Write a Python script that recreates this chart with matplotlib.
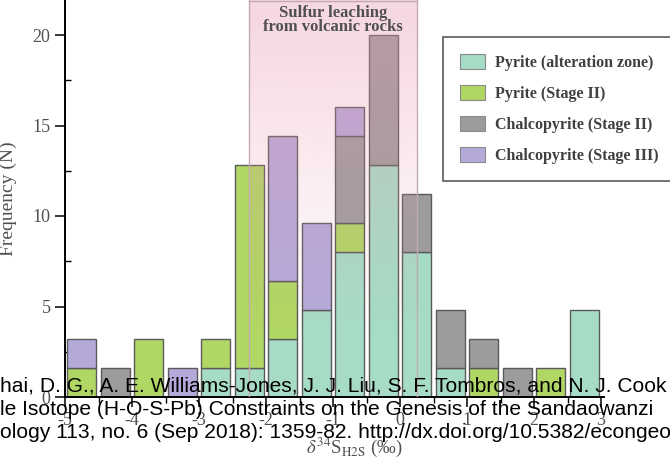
import numpy as np
import matplotlib
matplotlib.use("Agg")
import matplotlib.pyplot as plt
import matplotlib.patches as patches
from matplotlib.ticker import MultipleLocator

# bin centres of the 0.5 permil histogram
bin_centers = [-4.75, -4.25, -3.75, -3.25, -2.75, -2.25, -1.75, -1.25,
               -0.75, -0.25, 0.25, 0.75, 1.25, 1.75, 2.25, 2.75]

pyrite_alt = [0, 0, 0, 0, 1.6, 1.6, 3.2, 4.8, 8.0, 12.8, 8.0, 1.6, 0, 0, 0, 4.8]
pyrite_s2 = [1.6, 0, 3.2, 0, 1.6, 11.2, 3.2, 0, 1.6, 0, 0, 0, 1.6, 0, 1.6, 0]
ccp_s2 = [0, 1.6, 0, 0, 0, 0, 0, 0, 4.8, 7.2, 3.2, 3.2, 1.6, 1.6, 0, 0]
ccp_s3 = [1.6, 0, 0, 1.6, 0, 0, 8.0, 4.8, 1.6, 0, 0, 0, 0, 0, 0, 0]

series_labels = ['Pyrite (alteration zone)', 'Pyrite (Stage II)',
                 'Chalcopyrite (Stage II)', 'Chalcopyrite (Stage III)']
series_colors = ['#a6dcc6', '#b0d663', '#9c9c9c', '#b5a9da']

x_ticks = [-5, -4, -3, -2, -1, 0, 1, 2, 3]
x_tick_labels = ['-5', '-4', '-3', '-2', '-1', '0', '1', '2', '3']
y_ticks = [0, 5, 10, 15, 20]

leach_zone = (-2.25, 0.25)

citation = [
    'hai, D. G., A. E. Williams-Jones, J. J. Liu, S. F. Tombros, and N. J. Cook',
    'le Isotope (H-O-S-Pb) Constraints on the Genesis of the Sandaowanzi',
    'ology 113, no. 6 (Sep 2018): 1359-82. http://dx.doi.org/10.5382/econgeo',
]

plt.rcParams['font.family'] = ['Liberation Serif', 'DejaVu Serif']
plt.rcParams['mathtext.fontset'] = 'stix'

W, H = 670, 462
fig = plt.figure(figsize=(W / 100, H / 100), dpi=100)
ax = fig.add_axes([65 / W, 65 / H, 8.05 * 67 / W, 397 / H])

ymax = 397 / 18.1
ax.set_xlim(-5, 3.05)
ax.set_ylim(0, ymax)

# stacked bars
series = [pyrite_alt, pyrite_s2, ccp_s2, ccp_s3]
bottom = np.zeros(len(bin_centers))
handles = []
for vals, col, lab in zip(series, series_colors, series_labels):
    vals = np.array(vals, dtype=float)
    mask = vals > 0
    ax.bar(np.array(bin_centers)[mask], vals[mask], width=0.43,
           bottom=bottom[mask], color=col, edgecolor='#5a5a5a',
           linewidth=1.0, zorder=2)
    handles.append(patches.Patch(facecolor=col, edgecolor='#8a8a8a',
                                 linewidth=0.8, label=lab))
    bottom += vals

# pink shaded zone, fading to the bottom
n = 200
alpha = np.clip(np.linspace(0.0, 1.0, n) * 1.25 - 0.2, 0, 1) * 0.38
grad = np.zeros((n, 2, 4))
grad[:, :, 0] = 0.91
grad[:, :, 1] = 0.60
grad[:, :, 2] = 0.68
grad[:, :, 3] = alpha[:, None]
ax.imshow(grad, extent=[leach_zone[0], leach_zone[1], 0, ymax],
          origin='lower', aspect='auto', zorder=3, interpolation='bilinear')
for xe in leach_zone:
    ax.plot([xe, xe], [0, ymax], color='#c2aab2', lw=1.0, zorder=3)
ax.plot(leach_zone, [ymax - 0.05, ymax - 0.05], color='#c2aab2', lw=1.0, zorder=3)
ax.text(sum(leach_zone) / 2, ymax - 0.25, 'Sulfur leaching\nfrom volcanic rocks',
        ha='center', va='top', fontsize=12, fontweight='bold', color='#505050',
        linespacing=0.9, zorder=4)

# axes styling
for s in ['top', 'right']:
    ax.spines[s].set_visible(False)
for s in ['left', 'bottom']:
    ax.spines[s].set_linewidth(1.4)
ax.set_xticks(x_ticks)
ax.set_xticklabels(x_tick_labels)
ax.set_yticks(y_ticks)
ax.xaxis.set_minor_locator(MultipleLocator(0.5))
ax.yaxis.set_minor_locator(MultipleLocator(2.5))
ax.tick_params(which='major', direction='out', length=7, width=1.1,
               labelsize=13, labelcolor='#505050')
ax.tick_params(axis='y', which='minor', direction='in', length=4, width=1.0)
ax.tick_params(axis='x', which='minor', direction='out', length=4, width=1.0)

ax.set_ylabel('Frequency (N)', fontsize=14, color='#505050')
ax.yaxis.set_label_coords(-48 / (8.05 * 67), 0.5)
ax.set_xlabel(r'$\delta^{34}$S$_{\rm H2S}$ (‰)', fontsize=13.5, color='#505050')
ax.xaxis.set_label_coords((354 - 65) / (8.05 * 67), -39 / 397)

leg = fig.legend(handles=handles, loc='upper left',
                 bbox_to_anchor=(443 / W, 1 - 37 / H), borderaxespad=0,
                 prop={'weight': 'bold', 'size': 11.5},
                 handlelength=1.6, handleheight=1.05, labelspacing=0.9,
                 borderpad=1.05, handletextpad=0.6, frameon=True, fancybox=False)
leg.get_frame().set_edgecolor('#303030')
leg.get_frame().set_linewidth(1.2)
for t in leg.get_texts():
    t.set_color('#404040')

# citation overlay
for i, line in enumerate(citation):
    fig.text(0.0, 1 - (392 + 23 * i) / H, line, family='Liberation Sans',
             fontsize=15.1, color='black', ha='left', va='baseline')

fig.savefig('out.png', dpi=100)
